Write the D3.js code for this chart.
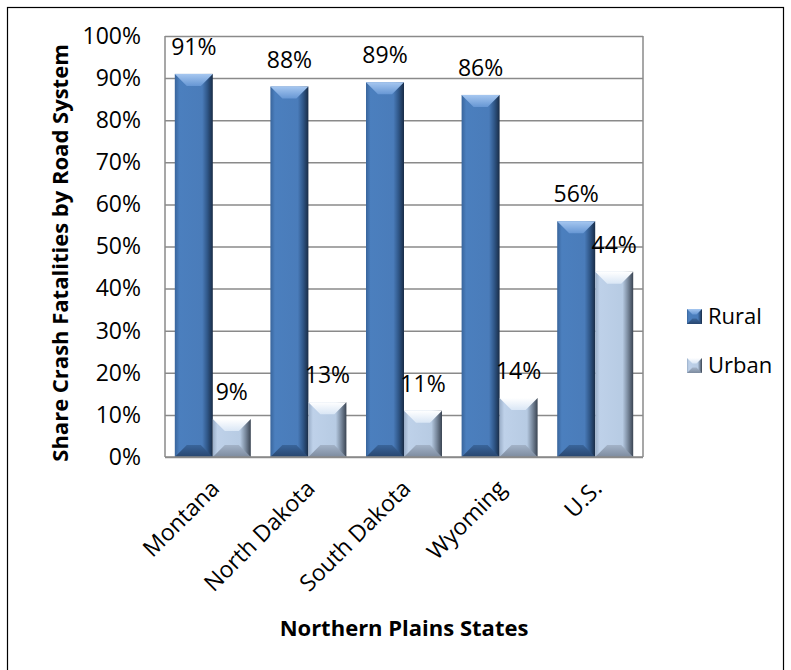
<!DOCTYPE html>
<html>
<head>
<meta charset="utf-8">
<script src="https://cdn.jsdelivr.net/npm/d3@7"></script>
<style>
  body { margin: 0; background: #fff; }
  svg { display: block; }
  text { font-family: "Open Sans", "Liberation Sans", sans-serif; fill: #000; }
</style>
</head>
<body>
<svg id="chart" width="791" height="670"></svg>
<script>
// Share of crash fatalities by road system, Northern Plains states vs. U.S.
const states = ["Montana", "North Dakota", "South Dakota", "Wyoming", "U.S."];
const rural = [0.91, 0.88, 0.89, 0.86, 0.56];
const urban = [0.09, 0.13, 0.11, 0.14, 0.44];
const seriesNames = ["Rural", "Urban"];
const yTicks = [0, 0.1, 0.2, 0.3, 0.4, 0.5, 0.6, 0.7, 0.8, 0.9, 1.0];

const plot = { left: 165, right: 643, top: 36, bottom: 457 };

const svg = d3.select("#chart");

// Bevelled-bar palettes, one per series
const palettes = {
  Rural: {
    body: ["#39659c", "#4b7fbe", "#4a7cba", "#2f5687", "#192c46"],
    top: ["#a6c7f0", "#6797d4"],
    bottom: ["#28466f", "#3a659b"]
  },
  Urban: {
    body: ["#9aaec8", "#bed1e9", "#b7cbe3", "#7a8a9e", "#3a4452"],
    top: ["#ffffff", "#d9e6f5"],
    bottom: ["#7d8b9f", "#a3b3c8"]
  }
};

const defs = svg.append("defs");
seriesNames.forEach(name => {
  const p = palettes[name];
  const gb = defs.append("linearGradient").attr("id", "body-" + name)
    .attr("x1", 0).attr("x2", 1).attr("y1", 0).attr("y2", 0);
  [0, 0.12, 0.72, 0.86, 1].forEach((o, i) =>
    gb.append("stop").attr("offset", o).attr("stop-color", p.body[i]));
  const gt = defs.append("linearGradient").attr("id", "top-" + name)
    .attr("x1", 0).attr("x2", 0).attr("y1", 0).attr("y2", 1);
  gt.append("stop").attr("offset", 0).attr("stop-color", p.top[0]);
  gt.append("stop").attr("offset", 1).attr("stop-color", p.top[1]);
  const gbt = defs.append("linearGradient").attr("id", "bot-" + name)
    .attr("x1", 0).attr("x2", 0).attr("y1", 0).attr("y2", 1);
  gbt.append("stop").attr("offset", 0).attr("stop-color", p.bottom[1]);
  gbt.append("stop").attr("offset", 1).attr("stop-color", p.bottom[0]);
});

// Outer chart frame
svg.append("rect")
  .attr("x", 7.5).attr("y", 7.5)
  .attr("width", 776).attr("height", 680)
  .attr("fill", "none").attr("stroke", "#000").attr("stroke-width", 1.2);

const x0 = d3.scaleBand().domain(states)
  .range([plot.left, plot.right])
  .paddingInner(0.205).paddingOuter(0.1025);
const x1 = d3.scaleBand().domain(seriesNames).range([0, x0.bandwidth()]);
const y = d3.scaleLinear().domain([0, 1]).range([plot.bottom, plot.top]);

// Horizontal gridlines
const grid = svg.append("g")
  .attr("transform", `translate(${plot.left},0)`)
  .call(d3.axisLeft(y).tickValues(yTicks)
    .tickSize(-(plot.right - plot.left)).tickFormat(""));
grid.select(".domain").remove();
grid.selectAll(".tick line").attr("stroke", "#8a8a8a").attr("stroke-width", 1.5);

// Plot frame lines (left axis, right edge)
const frame = svg.append("g").attr("stroke", "#8a8a8a").attr("stroke-width", 1.5);
frame.append("line").attr("x1", plot.left).attr("x2", plot.left)
  .attr("y1", y(1)).attr("y2", y(0));
frame.append("line").attr("x1", plot.right).attr("x2", plot.right)
  .attr("y1", y(1)).attr("y2", y(0));

// Y axis labels
const yAxis = svg.append("g")
  .attr("transform", `translate(${plot.left},0)`)
  .call(d3.axisLeft(y).tickValues(yTicks).tickSize(0).tickPadding(24)
    .tickFormat(d3.format(".0%")));
yAxis.select(".domain").remove();
yAxis.selectAll("text")
  .style("font-family", '"Open Sans", sans-serif')
  .attr("font-size", 23).attr("fill", "#000");

// Draw one bevelled bar: body with shaded sides, light top facet, dark bottom facet
function bevelBar(g, name, bx, by, bw, bh, bevel) {
  const b = Math.min(bevel, bh / 2, bw / 2 - 2);
  g.append("rect").attr("x", bx).attr("y", by).attr("width", bw).attr("height", bh)
    .attr("fill", `url(#body-${name})`);
  g.append("path")
    .attr("d", `M${bx},${by}L${bx + bw},${by}L${bx + bw - b},${by + b}L${bx + b},${by + b}Z`)
    .attr("fill", `url(#top-${name})`);
  g.append("path")
    .attr("d", `M${bx},${by + bh}L${bx + bw},${by + bh}L${bx + bw - b},${by + bh - b}L${bx + b},${by + bh - b}Z`)
    .attr("fill", `url(#bot-${name})`);
}

const rows = states.map((s, i) => ({ state: s, values: [
  { name: "Rural", value: rural[i] },
  { name: "Urban", value: urban[i] }
]}));

const groups = svg.append("g").selectAll("g").data(rows).join("g")
  .attr("transform", d => `translate(${x0(d.state)},0)`);

groups.each(function (d) {
  const g = d3.select(this);
  d.values.forEach(v => {
    const bx = x1(v.name), bw = x1.bandwidth();
    const by = y(v.value), bh = y(0) - y(v.value);
    bevelBar(g, v.name, bx, by, bw, bh, 12);
    g.append("text")
      .attr("x", bx + bw / 2).attr("y", by - 19)
      .attr("text-anchor", "middle").attr("font-size", 23)
      .text(d3.format(".0%")(v.value));
  });
});

// Baseline drawn over the bars
frame.raise();
svg.append("line")
  .attr("x1", plot.left).attr("x2", plot.right)
  .attr("y1", y(0)).attr("y2", y(0))
  .attr("stroke", "#8a8a8a").attr("stroke-width", 1.5);

// Category labels, rotated
const xAxis = svg.append("g")
  .attr("transform", `translate(0,${plot.bottom})`)
  .call(d3.axisBottom(x0).tickSize(0).tickFormat(d => d));
xAxis.select(".domain").remove();
xAxis.selectAll(".tick text")
  .style("font-family", '"Open Sans", sans-serif')
  .attr("font-size", 23).attr("fill", "#000")
  .attr("text-anchor", "end")
  .attr("dy", null)
  .attr("transform", "translate(8,33) rotate(-45)")
  .attr("x", 0).attr("y", 0);

// Axis titles
svg.append("text")
  .attr("x", (plot.left + plot.right) / 2).attr("y", 636)
  .attr("text-anchor", "middle").attr("font-size", 22).attr("font-weight", "bold")
  .text("Northern Plains States");

svg.append("text")
  .attr("transform", `translate(68,253) rotate(-90)`)
  .attr("text-anchor", "middle").attr("font-size", 22).attr("font-weight", "bold")
  .text("Share Crash Fatalities by Road System");

// Legend
const legend = svg.append("g").selectAll("g").data(seriesNames).join("g")
  .attr("transform", (d, i) => `translate(687,${309 + i * 49})`);
legend.each(function (d) {
  bevelBar(d3.select(this), d, 0, 0, 15, 15, 6);
});
legend.append("text")
  .attr("x", 21).attr("y", 15)
  .attr("font-size", 22)
  .text(d => d);
</script>
</body>
</html>
